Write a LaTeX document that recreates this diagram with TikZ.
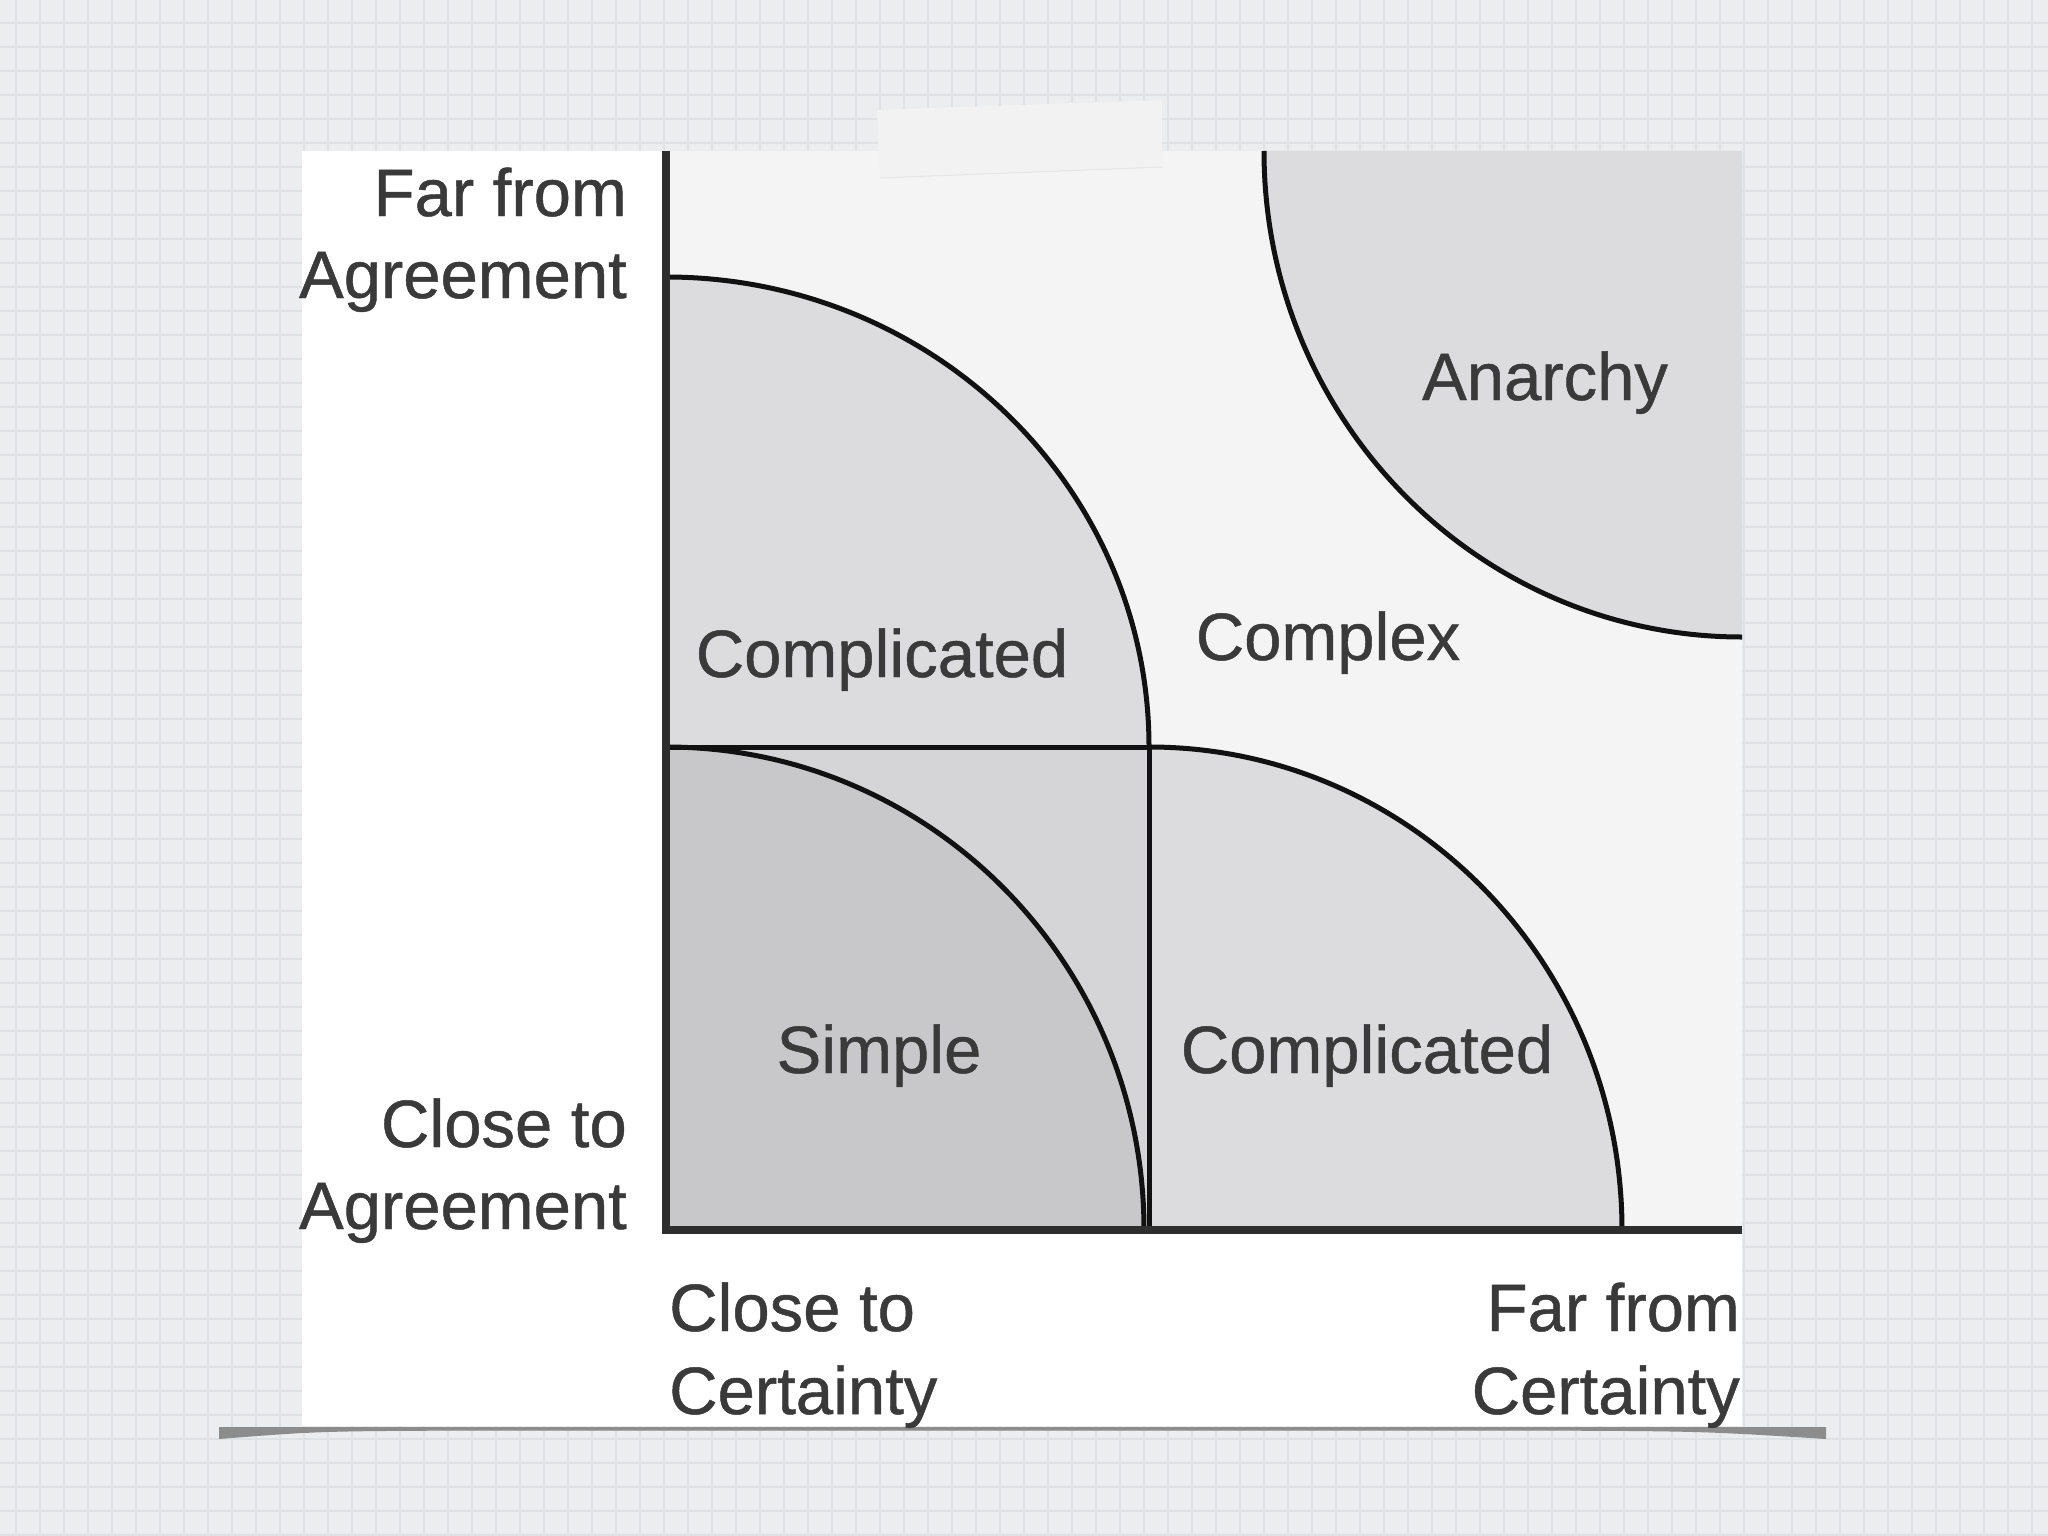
\documentclass[tikz,border=0pt]{standalone}
\usepackage{fontspec}
\setmainfont{Liberation Sans}
\newfontfamily\labfont[FakeBold=0.7]{Liberation Sans}
\definecolor{bgc}{HTML}{ECEDEE}
\definecolor{gridc}{HTML}{DFE2E4}
\definecolor{plotc}{HTML}{F4F4F5}
\definecolor{patchc}{HTML}{F2F2F3}
\definecolor{lightc}{HTML}{DCDCDE}
\definecolor{squarec}{HTML}{D5D5D7}
\definecolor{simplec}{HTML}{C8C8CA}
\definecolor{textc}{HTML}{3A3A3A}
\definecolor{axisc}{HTML}{2E2E2E}
\definecolor{curvec}{HTML}{111111}
\definecolor{shadowc}{HTML}{8C8C8C}
\tikzset{
  lab/.style={inner sep=0pt, text=textc, font=\labfont\fontsize{67}{80}\selectfont},
  axisline/.style={draw=axisc, line width=7.5pt},
  curveline/.style={draw=curvec, line width=5pt},
}
\begin{document}
\begin{tikzpicture}[x=1pt,y=-1pt]
\useasboundingbox (0,0) rectangle (2048,1536);
% graph-paper background
\fill[bgc] (0,0) rectangle (2048,1536);
\foreach \gx in {16,40,...,2048} \draw[gridc, line width=1.3pt] (\gx,0) -- (\gx,1536);
\foreach \gy in {23,47,...,1536} \draw[gridc, line width=1.3pt] (0,\gy) -- (2048,\gy);
% page shadow line
\fill[shadowc] (219,1427) -- (1826,1427) -- (1826,1439) .. controls (1700,1431) .. (1500,1430.5) -- (500,1430.5) .. controls (320,1431) .. (219,1439) -- cycle;
% white panel
\fill[white] (302,151) rectangle (1742,1426);
% plot area
\fill[plotc] (666,151) rectangle (1742,1230);
% faint patch at top
\fill[patchc] (877,110) -- (1162,100) -- (1162,167) -- (880,178) -- cycle;
\draw[lightc!60!plotc, line width=1pt] (880,178) -- (1162,167);
% regions
\fill[lightc] (666,747) -- (666,277) arc[start angle=-90, end angle=0, x radius=483, y radius=470] -- cycle;
\fill[squarec] (666,747) rectangle (1149,1230);
\fill[simplec] (666,1230) -- (666,747) arc[start angle=-90, end angle=0, x radius=478, y radius=483] -- cycle;
\fill[lightc] (1149,1230) -- (1149,747) arc[start angle=-90, end angle=0, x radius=473, y radius=483] -- cycle;
\fill[lightc] (1264,151) arc[start angle=180, end angle=90, x radius=478, y radius=486] -- (1742,151) -- cycle;
% curves and inner lines
\draw[curveline] (666,277) arc[start angle=-90, end angle=0, x radius=483, y radius=470];
\draw[curveline] (666,747) arc[start angle=-90, end angle=0, x radius=478, y radius=483];
\draw[curveline] (1149,747) arc[start angle=-90, end angle=0, x radius=473, y radius=483];
\draw[curveline] (1264,151) arc[start angle=180, end angle=90, x radius=478, y radius=486];
\draw[curveline] (666,747) -- (1149,747) -- (1149,1230);
% axes
\draw[axisline] (666,151) -- (666,1230) -- (1742,1230);
% axis labels
\node[lab, anchor=base east] (fa1) at (627,216) {Far from};
\node[lab, anchor=base east] (fa2) at (627,298) {Agreement};
\node[lab, anchor=base east] (ca1) at (627,1147) {Close to};
\node[lab, anchor=base east] (ca2) at (627,1229) {Agreement};
\node[lab, anchor=base west] (cc1) at (669,1331) {Close to};
\node[lab, anchor=base west] (cc2) at (669,1414) {Certainty};
\node[lab, anchor=base east] (fc1) at (1740,1331) {Far from};
\node[lab, anchor=base east] (fc2) at (1740,1414) {Certainty};
% region labels
\node[lab, anchor=base] (compl1) at (882,677) {Complicated};
\node[lab, anchor=base] (cplx) at (1328,660) {Complex};
\node[lab, anchor=base] (anar) at (1545,400) {Anarchy};
\node[lab, anchor=base] (simp) at (879,1073) {Simple};
\node[lab, anchor=base] (compl2) at (1367,1073) {Complicated};
\end{tikzpicture}
\end{document}
